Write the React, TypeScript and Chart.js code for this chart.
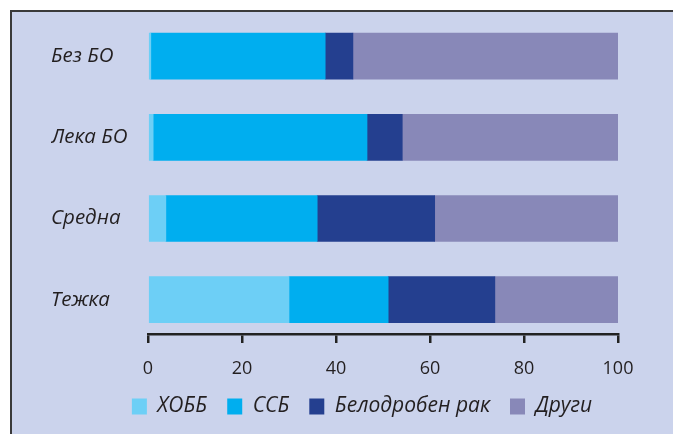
import React, { useEffect, useRef } from "react";
import { Chart, registerables } from "chart.js";

Chart.register(...registerables);

const categories = ["Без БО", "Лека БО", "Средна", "Тежка"];
const seriesNames = ["ХОББ", "ССБ", "Белодробен рак", "Други"];
const hobb = [0.6, 1.1, 3.8, 30.0];
const ssb = [37.1, 45.5, 32.2, 21.1];
const lungCancer = [5.9, 7.5, 25.0, 22.7];
const others = [56.4, 45.9, 39.0, 26.2];
const xTicks = [0, 20, 40, 60, 80, 100];

const colors = ["#6dcff6", "#00aeef", "#243f8f", "#8888b8"];
const TEXT = "#231f20";
const FONT = "'Open Sans', 'Noto Sans', sans-serif";

export default function App() {
  const ref = useRef<HTMLCanvasElement | null>(null);

  useEffect(() => {
    if (!ref.current) return;
    const values = [hobb, ssb, lungCancer, others];
    const chart = new Chart(ref.current, {
      type: "bar",
      data: {
        labels: categories,
        datasets: seriesNames.map((name, i) => ({
          label: name,
          data: values[i],
          backgroundColor: colors[i],
          borderWidth: 0,
          barThickness: 46,
        })),
      },
      options: {
        indexAxis: "y",
        responsive: false,
        animation: false,
        devicePixelRatio: 1,
        layout: { padding: { left: 39, right: 0, top: 3.6, bottom: 7 } },
        plugins: {
          tooltip: { enabled: false },
          legend: {
            position: "bottom",
            align: "center",
            labels: {
              boxWidth: 15,
              boxHeight: 16,
              padding: 20,
              color: TEXT,
              font: { family: FONT, size: 21, style: "italic" },
            },
          },
        },
        scales: {
          x: {
            type: "linear",
            stacked: true,
            min: 0,
            max: 100,
            afterBuildTicks: (scale: any) => {
              scale.ticks = xTicks.map((v) => ({ value: v }));
            },
            afterFit: (scale: any) => {
              scale.height = 42;
            },
            border: { display: true, color: "#222", width: 2.5 },
            grid: {
              drawOnChartArea: false,
              drawTicks: true,
              tickLength: 9,
              color: "#222",
              lineWidth: 2.5,
            },
            ticks: {
              color: TEXT,
              padding: 15,
              maxRotation: 0,
              font: { family: FONT, size: 18 },
            },
          },
          y: {
            type: "category",
            stacked: true,
            offset: true,
            afterBuildTicks: (scale: any) => {
              scale._startValue = -0.5;
              scale._valueRange = 3.923;
            },
            afterFit: (scale: any) => {
              scale.width = 97;
              scale.paddingTop = 0;
              scale.paddingBottom = 0;
            },
            border: { display: false },
            grid: { display: false, drawTicks: false },
            ticks: {
              crossAlign: "far",
              color: TEXT,
              padding: 0,
              font: { family: FONT, size: 20.5, style: "italic" },
            },
          },
          yRight: {
            type: "category",
            position: "right",
            display: true,
            afterFit: (scale: any) => {
              scale.width = 55;
              scale.paddingTop = 0;
              scale.paddingBottom = 0;
            },
            border: { display: false },
            grid: { display: false, drawTicks: false },
            ticks: { display: false },
          },
        },
      },
    });
    return () => chart.destroy();
  }, []);

  return (
    <div
      style={{
        position: "fixed",
        left: 0,
        top: 0,
        width: 673,
        height: 434,
        background: "#ffffff",
        overflow: "hidden",
      }}
    >
      <div
        style={{
          position: "absolute",
          left: 10,
          top: 10,
          width: 663,
          height: 424,
          boxSizing: "border-box",
          borderTop: "2px solid #3a3a3a",
          borderLeft: "2px solid #3a3a3a",
          background: "#cbd3ec",
        }}
      >
        <canvas
          ref={ref}
          width={661}
          height={422}
          style={{ display: "block", width: 661, height: 422 }}
        />
      </div>
    </div>
  );
}
